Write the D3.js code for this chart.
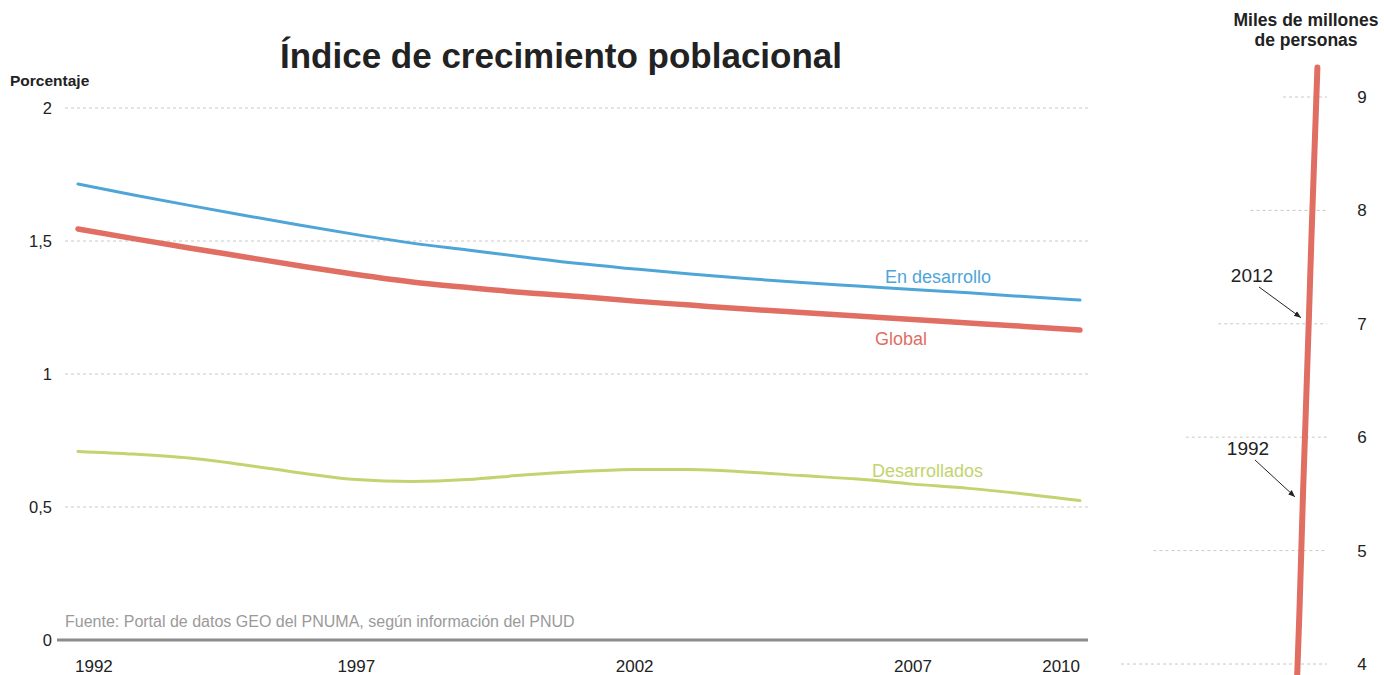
<!DOCTYPE html>
<html>
<head>
<meta charset="utf-8">
<script src="https://cdn.jsdelivr.net/npm/d3@7"></script>
<style>
  body { margin: 0; background: #fff; }
  svg { display: block; font-family: "Liberation Sans", Arial, sans-serif; }
</style>
</head>
<body>
<div id="chart"></div>
<script>
// --- data ---
const years = [1992,1993,1994,1995,1996,1997,1998,1999,2000,2001,2002,2003,2004,2005,2006,2007,2008,2009,2010];
const enDesarrollo = [1.714,1.673,1.634,1.596,1.559,1.524,1.492,1.466,1.440,1.415,1.395,1.376,1.359,1.344,1.331,1.318,1.305,1.291,1.278];
const globalRate   = [1.545,1.509,1.474,1.440,1.406,1.374,1.346,1.325,1.306,1.291,1.274,1.259,1.244,1.231,1.218,1.205,1.192,1.179,1.165];
const desarrollados= [0.709,0.699,0.684,0.658,0.628,0.603,0.596,0.603,0.620,0.633,0.641,0.641,0.632,0.618,0.605,0.586,0.570,0.549,0.524];
const rateTicks = [0, 0.5, 1, 1.5, 2];
const yearTicks = [1992, 1997, 2002, 2007, 2010];

const popYears  = [1970, 1980, 1992, 2000, 2012, 2020, 2030, 2040];
const popValues = [3.70, 4.45, 5.50, 6.12, 7.08, 7.75, 8.50, 9.26];
const popTicks  = [4, 5, 6, 7, 8, 9];

const W = 1384, H = 675;
const svg = d3.select('#chart').append('svg').attr('width', W).attr('height', H);

// Title
svg.append('text')
  .attr('x', 561).attr('y', 68)
  .attr('text-anchor', 'middle')
  .attr('font-size', 35).attr('font-weight', 'bold').attr('fill', '#222')
  .text('Índice de crecimiento poblacional');

svg.append('text')
  .attr('x', 10).attr('y', 86)
  .attr('font-size', 15.5).attr('font-weight', 'bold').attr('fill', '#222')
  .text('Porcentaje');

// --- left chart ---
const x = d3.scaleLinear().domain([1992, 2010]).range([78, 1080]);
const y = d3.scaleLinear().domain([0, 2]).range([640, 108]);

// grid
svg.append('g')
  .selectAll('line')
  .data(rateTicks.filter(d => d > 0))
  .join('line')
  .attr('x1', 65).attr('x2', 1088)
  .attr('y1', d => y(d)).attr('y2', d => y(d))
  .attr('stroke', '#c8c8c8').attr('stroke-width', 1)
  .attr('stroke-dasharray', '3,3');

// baseline
svg.append('line')
  .attr('x1', 57).attr('x2', 1088)
  .attr('y1', y(0)).attr('y2', y(0))
  .attr('stroke', '#8c8c8c').attr('stroke-width', 3);

// y labels
svg.append('g')
  .selectAll('text')
  .data(rateTicks)
  .join('text')
  .attr('x', 52).attr('y', d => y(d) + 6)
  .attr('text-anchor', 'end')
  .attr('font-size', 16.5).attr('fill', '#222')
  .text(d => String(d).replace('.', ','));

// x labels
svg.append('g')
  .selectAll('text')
  .data(yearTicks)
  .join('text')
  .attr('x', d => x(d))
  .attr('y', 672)
  .attr('text-anchor', (d, i) => i === 0 ? 'start' : (i === yearTicks.length - 1 ? 'end' : 'middle'))
  .attr('dx', (d, i) => i === 0 ? -3 : 0)
  .attr('font-size', 17).attr('fill', '#222')
  .text(d => d);

// source
svg.append('text')
  .attr('x', 65).attr('y', 627)
  .attr('font-size', 16).attr('fill', '#9a9a9a')
  .text('Fuente: Portal de datos GEO del PNUMA, según información del PNUD');

const line = d3.line()
  .x((d, i) => x(years[i]))
  .y(d => y(d))
  .curve(d3.curveMonotoneX);

const series = [
  { name: 'En desarrollo', values: enDesarrollo, color: '#4ea5d7', width: 3, lx: 885, ly: 283 },
  { name: 'Global', values: globalRate, color: '#e06e63', width: 5.5, lx: 875, ly: 345 },
  { name: 'Desarrollados', values: desarrollados, color: '#c3d36f', width: 3, lx: 872, ly: 477 }
];

series.forEach(s => {
  svg.append('path')
    .datum(s.values)
    .attr('d', line)
    .attr('fill', 'none')
    .attr('stroke', s.color)
    .attr('stroke-width', s.width)
    .attr('stroke-linecap', 'round');
  svg.append('text')
    .attr('x', s.lx).attr('y', s.ly)
    .attr('font-size', 18).attr('fill', s.color)
    .text(s.name);
});

// --- right panel: population ---
const xP = d3.scaleLinear().domain([1970, 2040]).range([1296.4, 1317.4]);
const yP = d3.scaleLinear().domain([4, 9]).range([664, 97]);

svg.append('text')
  .attr('text-anchor', 'middle').attr('x', 1306)
  .attr('font-size', 17.5).attr('font-weight', 'bold').attr('fill', '#222')
  .selectAll('tspan')
  .data(['Miles de millones', 'de personas'])
  .join('tspan')
  .attr('x', 1306)
  .attr('y', (d, i) => 26 + i * 20)
  .text(d => d);

svg.append('g')
  .selectAll('line')
  .data(popTicks)
  .join('line')
  .attr('x1', d => 1121 + (d - 4) * 32.4).attr('x2', 1327)
  .attr('y1', d => yP(d)).attr('y2', d => yP(d))
  .attr('stroke', '#c8c8c8').attr('stroke-width', 1)
  .attr('stroke-dasharray', '3,3');

svg.append('g')
  .selectAll('text')
  .data(popTicks)
  .join('text')
  .attr('x', 1362).attr('y', d => yP(d) + 6)
  .attr('text-anchor', 'middle')
  .attr('font-size', 17).attr('fill', '#222')
  .text(d => d);

svg.append('path')
  .datum(popValues)
  .attr('d', d3.line().x((d, i) => xP(popYears[i])).y(d => yP(d)).curve(d3.curveMonotoneY))
  .attr('fill', 'none')
  .attr('stroke', '#e06e63')
  .attr('stroke-width', 6)
  .attr('stroke-linecap', 'round');

// arrows
const defs = svg.append('defs');
defs.append('marker')
  .attr('id', 'arrow')
  .attr('viewBox', '0 -5 10 10')
  .attr('refX', 10).attr('refY', 0)
  .attr('markerWidth', 7).attr('markerHeight', 7)
  .attr('markerUnits', 'userSpaceOnUse')
  .attr('orient', 'auto')
  .append('path')
  .attr('d', 'M0,-4L10,0L0,4Z')
  .attr('fill', '#222');

const notes = [
  { year: 2012, value: 7.08, tx: 1252, ty: 282 },
  { year: 1992, value: 5.50, tx: 1248, ty: 455 }
];
notes.forEach(n => {
  svg.append('text')
    .attr('x', n.tx).attr('y', n.ty)
    .attr('text-anchor', 'middle')
    .attr('font-size', 19).attr('fill', '#222')
    .text(n.year);
  svg.append('line')
    .attr('x1', n.tx + 7).attr('y1', n.ty + 5)
    .attr('x2', xP(n.year) - 8).attr('y2', yP(n.value) + 3)
    .attr('stroke', '#222').attr('stroke-width', 1)
    .attr('marker-end', 'url(#arrow)');
});
</script>
</body>
</html>
